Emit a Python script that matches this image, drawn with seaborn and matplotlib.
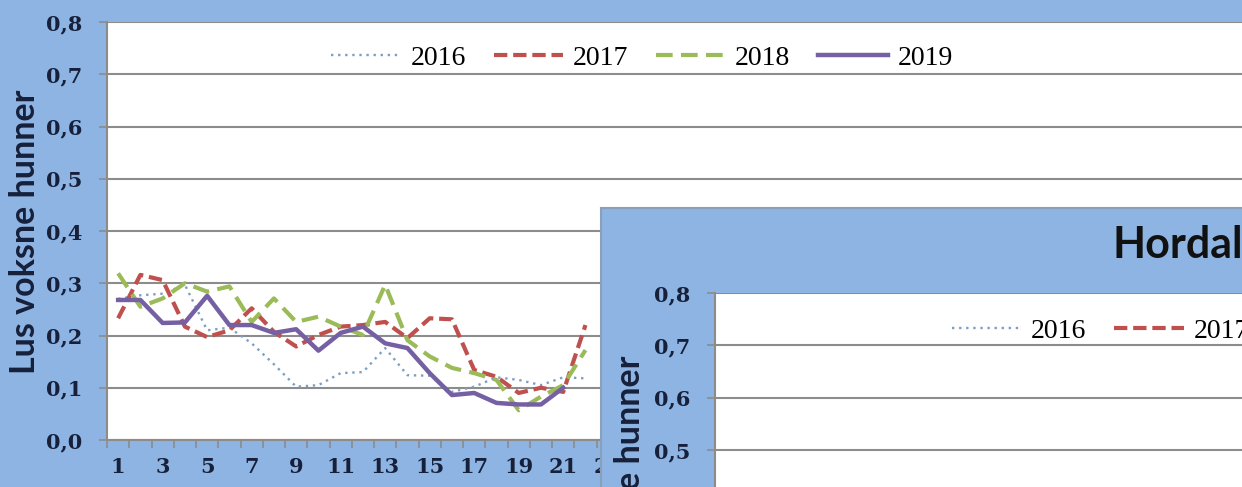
import matplotlib
matplotlib.use("Agg")
import matplotlib.pyplot as plt
import seaborn as sns
import pandas as pd
from matplotlib.lines import Line2D

# weekly mean adult female lice per fish
weeks = list(range(1, 23))
lice_2016 = [0.27, 0.277, 0.28, 0.297, 0.21, 0.215, 0.185, 0.145, 0.102, 0.105, 0.128,
             0.13, 0.176, 0.124, 0.123, 0.092, 0.102, 0.12, 0.115, 0.105, 0.12, 0.118]
lice_2017 = [0.233, 0.316, 0.306, 0.217, 0.197, 0.21, 0.252, 0.207, 0.179, 0.201, 0.217,
             0.22, 0.226, 0.195, 0.233, 0.231, 0.134, 0.121, 0.09, 0.1, 0.092, 0.22]
lice_2018 = [0.319, 0.255, 0.271, 0.3, 0.284, 0.294, 0.226, 0.271, 0.226, 0.236, 0.217,
             0.201, 0.297, 0.191, 0.16, 0.138, 0.128, 0.115, 0.057, 0.083, 0.105, 0.172]
lice_2019 = [0.268, 0.268, 0.224, 0.225, 0.276, 0.22, 0.22, 0.205, 0.212, 0.171, 0.205,
             0.217, 0.185, 0.176, 0.128, 0.086, 0.09, 0.071, 0.068, 0.068, 0.1]
years = ["2016", "2017", "2018", "2019"]
y_ticks = [0.0, 0.1, 0.2, 0.3, 0.4, 0.5, 0.6, 0.7, 0.8]
y_labels = ["0,0", "0,1", "0,2", "0,3", "0,4", "0,5", "0,6", "0,7", "0,8"]
x_labels = list(range(1, 53, 2))
ylabel = "Lus voksne hunner"
title2 = "Hordaland"

W, H = 1242, 487
BG = "#8db4e2"
GRID = "#8c8c8c"
TXT = "#17203a"
colors = {"2016": "#7d9ec2", "2017": "#c0504d", "2018": "#9bbb59", "2019": "#7460a3"}
styles = {"2016": dict(lw=1.7, ls=(0, (1, 2.0))),
          "2017": dict(lw=3.0, ls=(0, (3.2, 1.4))),
          "2018": dict(lw=3.0, ls=(0, (4.0, 2.0))),
          "2019": dict(lw=3.2, ls="-")}
series = {"2016": lice_2016, "2017": lice_2017, "2018": lice_2018, "2019": lice_2019}

tick_font = dict(family="DejaVu Serif", size=15, weight="bold")
leg_font = dict(family="Liberation Serif", size=20)


def box(x0, y0, x1, y1):
    return [x0 / W, 1 - y1 / H, (x1 - x0) / W, (y1 - y0) / H]


def style_axes(ax):
    ax.set_facecolor("white")
    ax.set_ylim(0, 0.8)
    ax.set_yticks(y_ticks)
    ax.set_yticklabels(y_labels, fontdict=tick_font, color=TXT)
    ax.grid(axis="y", color=GRID, lw=1.5)
    ax.set_axisbelow(True)
    for s in ["top", "right"]:
        ax.spines[s].set_visible(False)
    for s in ["left", "bottom"]:
        ax.spines[s].set_color(GRID)
        ax.spines[s].set_linewidth(1.5)
    ax.tick_params(axis="y", length=6, width=1.2, color=GRID, pad=12)
    ax.set_xlim(0.5, 0.5 + (W - 107) / 22.5)
    ax.set_xticks(x_labels)
    ax.set_xticklabels([str(v) for v in x_labels], fontdict=tick_font, color=TXT)
    ax.set_xticks([w + 0.5 for w in range(0, 52)], minor=True)
    ax.tick_params(axis="x", which="major", length=0, pad=12)
    ax.tick_params(axis="x", which="minor", length=6, width=1.2, color=GRID)
    ax.set_xlabel("")
    ax.set_ylabel("")


fig = plt.figure(figsize=(W / 100, H / 100), dpi=100, facecolor=BG)

# first chart
ax = fig.add_axes(box(107, 22, W, 440), zorder=1)
for yr in years:
    vals = series[yr]
    df = pd.DataFrame({"uke": weeks[:len(vals)], "lus": vals})
    sns.lineplot(data=df, x="uke", y="lus", ax=ax, color=colors[yr],
                 linewidth=styles[yr]["lw"], linestyle=styles[yr]["ls"], label=yr,
                 legend=False)
style_axes(ax)
ax.text(-82 / (W - 107), (440 - 232) / 418, ylabel, transform=ax.transAxes, rotation=90,
        ha="center", va="center", fontsize=24.5, fontweight="bold",
        family="Lato", color=TXT)

handles = [Line2D([], [], color=colors[yr], lw=styles[yr]["lw"], ls=styles[yr]["ls"])
           for yr in years]
ax.legend(handles, years, loc="center", ncol=4, frameon=False,
          bbox_to_anchor=((642 - 107) / (W - 107), (440 - 58) / 418),
          prop=leg_font, handlelength=2.5, handletextpad=0.35, columnspacing=1.0,
          borderpad=0)

# second chart laid over the first
panel = fig.add_axes(box(601, 208, W + 20, H + 20), zorder=2)
panel.set_facecolor(BG)
panel.set_xticks([])
panel.set_yticks([])
for s in panel.spines.values():
    s.set_color("#8a9fba")
    s.set_linewidth(1.5)

ax2 = fig.add_axes(box(715, 293, W + 300, 293 + 8 * 52.3), zorder=3)
style_axes(ax2)
ax2.legend(handles, years, loc="center left", ncol=4, frameon=False,
           bbox_to_anchor=(938 / W, 1 - 331 / H), bbox_transform=fig.transFigure,
           prop=leg_font, handlelength=2.5, handletextpad=0.35, columnspacing=1.0,
           borderpad=0)

fig.text(1113 / W, 1 - 245 / H, title2, ha="left", va="center", fontsize=31,
         fontweight="bold", family="Lato", color="#111111", zorder=10)
fig.text(630 / W, 1 - 356 / H, ylabel, rotation=90, ha="center", va="top",
         fontsize=24.5, fontweight="bold", family="Lato", color=TXT, zorder=10)

fig.savefig("out.png", dpi=100, facecolor=BG)
